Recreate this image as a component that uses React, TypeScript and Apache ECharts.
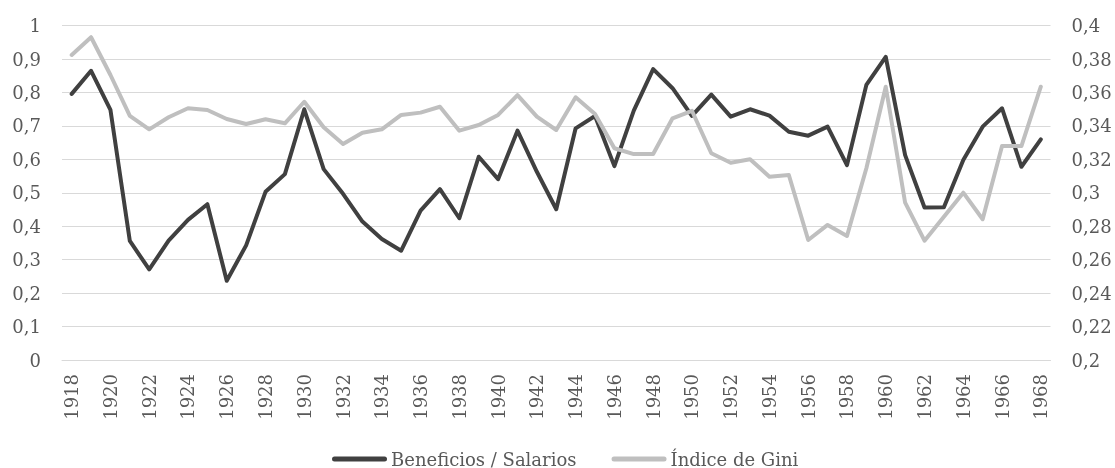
import React, { useEffect, useRef } from "react";
import * as echarts from "echarts";

const years: string[] = [];
for (let y = 1918; y <= 1968; y++) years.push(String(y));

const beneficiosSalarios = [
  0.796, 0.865, 0.748, 0.356, 0.271, 0.357, 0.419, 0.466, 0.237, 0.343,
  0.503, 0.556, 0.75, 0.571, 0.497, 0.414, 0.362, 0.327, 0.447, 0.511,
  0.424, 0.608, 0.541, 0.686, 0.563, 0.451, 0.693, 0.73, 0.58, 0.746,
  0.87, 0.813, 0.73, 0.794, 0.728, 0.75, 0.731, 0.683, 0.671, 0.698,
  0.583, 0.823, 0.907, 0.613, 0.456, 0.457, 0.598, 0.698, 0.753, 0.578,
  0.66,
];

const indiceGini = [
  0.3825, 0.3931, 0.3705, 0.346, 0.338, 0.3452, 0.3506, 0.3496, 0.3442, 0.3412,
  0.344, 0.3416, 0.3545, 0.3392, 0.3292, 0.336, 0.338, 0.3466, 0.348, 0.3515,
  0.3372, 0.3406, 0.3466, 0.3585, 0.3456, 0.3376, 0.3572, 0.3472, 0.3267, 0.3232,
  0.3232, 0.3446, 0.3491, 0.3237, 0.318, 0.3201, 0.3097, 0.3107, 0.2718, 0.2808,
  0.2742, 0.3147, 0.3635, 0.2941, 0.2714, 0.2857, 0.3001, 0.2842, 0.328, 0.328,
  0.3635,
];

const seriesNames = ["Beneficios / Salarios", "Índice de Gini"];

const FONT = "DejaVu Serif";
const TEXT_COLOR = "#595959";
const FS = 18;
const CAPSULE = "path://M2.5,0 H52.5 A2.5,2.5 0 0 1 52.5,5 H2.5 A2.5,2.5 0 0 1 2.5,0 Z";

const fmt = (v: number) => String(Math.round(v * 1000) / 1000).replace(".", ",");

export default function App() {
  const ref = useRef<HTMLDivElement>(null);
  useEffect(() => {
    if (!ref.current) return;
    const chart = echarts.init(ref.current, undefined, { renderer: "svg" });
    chart.setOption({
      animation: false,
      textStyle: { fontFamily: FONT, color: TEXT_COLOR },
      grid: { left: 62, right: 64.5, top: 25.7, bottom: 108, containLabel: false },
      legend: {
        top: 445,
        left: 327,
        itemWidth: 55,
        itemHeight: 5,
        itemGap: 35,
        icon: CAPSULE,
        textStyle: { fontFamily: FONT, fontSize: FS, color: TEXT_COLOR, padding: [0, 0, 0, -1] },
        data: seriesNames,
      },
      xAxis: {
        type: "category",
        data: years,
        boundaryGap: true,
        axisLine: { show: true, lineStyle: { color: "#d9d9d9", width: 1 } },
        axisTick: { show: false },
        axisLabel: {
          interval: 1,
          rotate: 90,
          margin: 14,
          fontFamily: FONT,
          fontSize: FS,
          color: TEXT_COLOR,
        },
      },
      yAxis: [
        {
          type: "value",
          min: 0,
          max: 1,
          interval: 0.1,
          axisLine: { show: false },
          axisTick: { show: false },
          splitLine: { lineStyle: { color: "#d9d9d9", width: 1 } },
          axisLabel: {
            formatter: fmt,
            margin: 21,
            fontFamily: FONT,
            fontSize: FS,
            color: TEXT_COLOR,
          },
        },
        {
          type: "value",
          min: 0.2,
          max: 0.4,
          interval: 0.02,
          axisLine: { show: false },
          axisTick: { show: false },
          splitLine: { show: false },
          axisLabel: {
            formatter: fmt,
            margin: 21,
            fontFamily: FONT,
            fontSize: FS,
            color: TEXT_COLOR,
          },
        },
      ],
      series: [
        {
          name: seriesNames[0],
          type: "line",
          yAxisIndex: 0,
          data: beneficiosSalarios,
          symbol: "none",
          lineStyle: { color: "#404040", width: 4, cap: "round", join: "round" },
          itemStyle: { color: "#404040" },
        },
        {
          name: seriesNames[1],
          type: "line",
          yAxisIndex: 1,
          data: indiceGini,
          symbol: "none",
          lineStyle: { color: "#bfbfbf", width: 4, cap: "round", join: "round" },
          itemStyle: { color: "#bfbfbf" },
        },
      ],
    });
    return () => chart.dispose();
  }, []);
  return (
    <div
      ref={ref}
      style={{ position: "fixed", left: 0, top: 0, width: 1115, height: 468 }}
    />
  );
}
